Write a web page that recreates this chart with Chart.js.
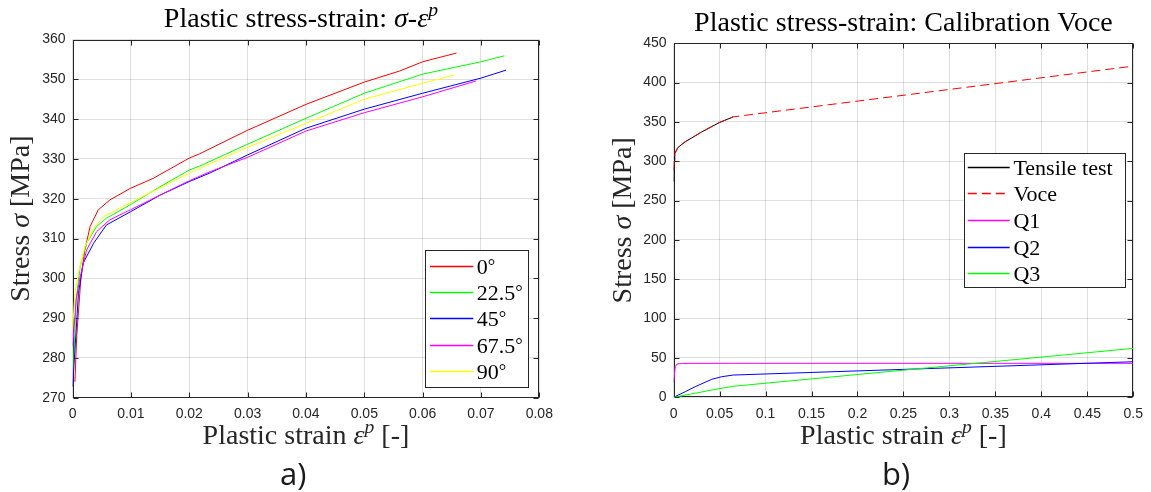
<!DOCTYPE html>
<html>
<head>
<meta charset="utf-8">
<script src="https://cdn.jsdelivr.net/npm/chart.js@4/dist/chart.umd.min.js"></script>
<style>
  html, body { margin: 0; padding: 0; background: #ffffff; }
  #wrap { position: relative; width: 1151px; height: 492px; overflow: hidden; }
  canvas { position: absolute; top: 0; }
</style>
</head>
<body>
<div id="wrap">
  <canvas id="panelA" width="576" height="492" style="left:0;width:576px;height:492px"></canvas>
  <canvas id="panelB" width="575" height="492" style="left:576px;width:575px;height:492px"></canvas>
</div>
<script>
// ---------- Panel a: plastic stress vs plastic strain per orientation ----------
const angleLabels = ['0°', '22.5°', '45°', '67.5°', '90°'];

const strain0  = [0.0004, 0.0007, 0.0014, 0.0021, 0.0030, 0.0044, 0.0064, 0.0099, 0.0138, 0.0200, 0.0218, 0.0300, 0.0400, 0.0500, 0.0561, 0.0600, 0.0658];
const stress0  = [274.0, 285.3, 299.6, 307.1, 313.0, 317.2, 319.7, 322.6, 325.1, 330.2, 331.3, 337.2, 343.7, 349.3, 352.1, 354.4, 356.6];

const strain22 = [0.0001, 0.0006, 0.0013, 0.0024, 0.0041, 0.0058, 0.0099, 0.0150, 0.0200, 0.0218, 0.0300, 0.0400, 0.0500, 0.0600, 0.0700, 0.0740];
const stress22 = [276.0, 294.5, 303.0, 308.8, 313.0, 315.1, 318.5, 323.0, 327.2, 328.2, 333.7, 340.2, 346.5, 351.3, 354.4, 355.9];

const strain45 = [0.0000, 0.0004, 0.0010, 0.0018, 0.0036, 0.0058, 0.0099, 0.0150, 0.0200, 0.0236, 0.0300, 0.0400, 0.0500, 0.0600, 0.0700, 0.0743];
const stress45 = [272.8, 282.0, 296.2, 303.8, 308.8, 313.4, 316.7, 320.9, 324.3, 326.5, 331.0, 337.7, 342.5, 346.5, 350.3, 352.3];

const strain67 = [0.0000, 0.0006, 0.0013, 0.0024, 0.0041, 0.0064, 0.0099, 0.0150, 0.0200, 0.0236, 0.0300, 0.0400, 0.0500, 0.0600, 0.0692];
const stress67 = [282.9, 294.5, 300.4, 307.1, 311.7, 314.7, 317.2, 320.9, 324.5, 326.8, 330.4, 337.0, 341.6, 345.6, 349.6];

const strain90 = [0.0000, 0.0004, 0.0010, 0.0021, 0.0036, 0.0053, 0.0099, 0.0200, 0.0218, 0.0300, 0.0400, 0.0500, 0.0600, 0.0654];
const stress90 = [287.0, 296.2, 301.3, 307.9, 312.6, 315.5, 319.0, 326.4, 327.6, 332.9, 338.9, 345.0, 349.0, 351.1];

const xTicksA      = [0, 0.01, 0.02, 0.03, 0.04, 0.05, 0.06, 0.07, 0.08];
const xTickLabelsA = ['0', '0.01', '0.02', '0.03', '0.04', '0.05', '0.06', '0.07', '0.08'];
const yTicksA      = [270, 280, 290, 300, 310, 320, 330, 340, 350, 360];
const yTickLabelsA = ['270', '280', '290', '300', '310', '320', '330', '340', '350', '360'];

// ---------- Panel b: Voce calibration and its three hardening terms ----------
const curveLabelsB = ['Tensile test', 'Voce', 'Q1', 'Q2', 'Q3'];

const strainTest = [0.0002, 0.0006, 0.0013, 0.0048, 0.0127, 0.0308, 0.0500, 0.0650];
const stressTest = [274.0, 300.0, 310.0, 317.7, 324.8, 337.5, 349.4, 356.5];

const strainVoce = [0, 0.0014, 0.0048, 0.0127, 0.0308, 0.0500, 0.0650, 0.5];
const stressVoce = [288.8, 310.0, 318.0, 325.0, 337.5, 349.4, 356.5, 421.0];

const strainQ1 = [0, 0.0018, 0.0037, 0.0100, 0.0650, 0.5];
const stressQ1 = [19.0, 38.9, 42.3, 43.1, 43.2, 43.2];

const strainQ2 = [0, 0.0127, 0.0235, 0.0416, 0.0524, 0.0650, 0.5];
const stressQ2 = [0, 7.1, 13.5, 22.9, 26.2, 28.3, 45.2];

const strainQ3 = [0, 0.0235, 0.0416, 0.0650, 0.5];
const stressQ3 = [0, 5.1, 9.3, 14.0, 62.2];

const xTicksB      = [0, 0.05, 0.1, 0.15, 0.2, 0.25, 0.3, 0.35, 0.4, 0.45, 0.5];
const xTickLabelsB = ['0', '0.05', '0.1', '0.15', '0.2', '0.25', '0.3', '0.35', '0.4', '0.45', '0.5'];
const yTicksB      = [0, 50, 100, 150, 200, 250, 300, 350, 400, 450];
const yTickLabelsB = ['0', '50', '100', '150', '200', '250', '300', '350', '400', '450'];

// ---------- shared styling ----------
const AXIS_COLOR = '#262626';
const GRID_COLOR = 'rgba(38,38,38,0.15)';
const SERIF = '"Liberation Serif", "Times New Roman", serif';
const SANS = '"Liberation Sans", Arial, sans-serif';
const TICK_LEN = 5;

function points(xs, ys) {
  return xs.map((x, i) => ({ x: x, y: ys[i] }));
}

function series(label, xs, ys, color, dash, i) {
  return {
    label: label,
    data: points(xs, ys),
    borderColor: color,
    backgroundColor: color,
    borderWidth: 1,
    borderDash: dash || [],
    pointRadius: 0,
    tension: 0,
    fill: false,
    order: -i
  };
}

function labelFor(ticks, labels, v) {
  const k = ticks.findIndex(t => Math.abs(t - v) < 1e-9);
  return k >= 0 ? labels[k] : '';
}

// Mixed-style text: runs of {t, it (italic), sup (superscript), deg (small ring)}
function runSize(r, size) {
  if (r.sup) return size * 0.7;
  if (r.deg) return size * 0.85;
  return size;
}
function runFont(size, italic) {
  return (italic ? 'italic ' : '') + size + 'px ' + SERIF;
}
function runsWidth(ctx, runs, size) {
  let w = 0;
  for (const r of runs) {
    ctx.font = runFont(runSize(r, size), r.it);
    w += ctx.measureText(r.t).width;
  }
  return w;
}
function drawRuns(ctx, runs, x, y, size, align) {
  let cx = align === 'left' ? x : x - runsWidth(ctx, runs, size) / 2;
  ctx.textAlign = 'left';
  ctx.textBaseline = 'alphabetic';
  for (const r of runs) {
    ctx.font = runFont(runSize(r, size), r.it);
    ctx.fillText(r.t, cx, r.sup ? y - size * 0.38 : (r.deg ? y - size * 0.08 : y));
    cx += ctx.measureText(r.t).width;
  }
}

// Legend text: a trailing degree sign is set as a small ring
function legendRuns(label) {
  if (label.endsWith('°')) {
    return [{ t: label.slice(0, -1) }, { t: '°', deg: true }];
  }
  return [{ t: label }];
}

// Full box with inward tick marks on all four sides
const framePlugin = {
  id: 'frame',
  beforeDatasetsDraw(chart) {
    const { ctx, chartArea: a, scales } = chart;
    const L = Math.round(a.left) + 0.5, R = Math.round(a.right) - 0.5;
    const T = Math.round(a.top) + 0.5, B = Math.round(a.bottom) - 0.5;
    ctx.save();
    ctx.strokeStyle = AXIS_COLOR;
    ctx.lineWidth = 1;
    ctx.beginPath();
    for (const t of scales.x.ticks) {
      const px = Math.round(scales.x.getPixelForValue(t.value)) + 0.5;
      ctx.moveTo(px, B); ctx.lineTo(px, B - TICK_LEN);
      ctx.moveTo(px, T); ctx.lineTo(px, T + TICK_LEN);
    }
    for (const t of scales.y.ticks) {
      const py = Math.round(scales.y.getPixelForValue(t.value)) + 0.5;
      ctx.moveTo(L, py); ctx.lineTo(L + TICK_LEN, py);
      ctx.moveTo(R, py); ctx.lineTo(R - TICK_LEN, py);
    }
    ctx.stroke();
    ctx.strokeRect(L, T, R - L, B - T);
    ctx.restore();
  }
};

// Legend box, titles, axis labels and panel tag
function makeDecor(spec) {
  return {
    id: 'decor',
    afterDatasetsDraw(chart) {
      const ctx = chart.ctx;
      const g = spec.legend;
      ctx.save();
      ctx.fillStyle = '#ffffff';
      ctx.fillRect(g.x, g.y, g.w, g.h);
      ctx.strokeStyle = AXIS_COLOR;
      ctx.lineWidth = 1;
      ctx.strokeRect(Math.round(g.x) + 0.5, Math.round(g.y) + 0.5, Math.round(g.w), Math.round(g.h));
      chart.data.datasets.forEach((ds, i) => {
        const yy = Math.round(g.y + g.first + i * g.step) + 0.5;
        ctx.strokeStyle = ds.borderColor;
        ctx.lineWidth = 1.5;
        ctx.setLineDash(ds.borderDash || []);
        ctx.beginPath();
        ctx.moveTo(g.x + g.l0, yy);
        ctx.lineTo(g.x + g.l1, yy);
        ctx.stroke();
        ctx.setLineDash([]);
        ctx.fillStyle = '#000000';
        drawRuns(ctx, legendRuns(ds.label), g.x + g.tx, yy + g.size * 0.33, g.size, 'left');
      });
      ctx.restore();
    },
    afterDraw(chart) {
      const ctx = chart.ctx;
      const a = chart.chartArea;
      const cx = (a.left + a.right) / 2;
      ctx.save();
      ctx.fillStyle = '#000000';
      drawRuns(ctx, spec.title, cx + spec.titleShift, spec.titleBase, spec.titleSize);
      ctx.fillStyle = '#262626';
      drawRuns(ctx, spec.xLabel, cx, spec.xLabelBase, spec.labelSize);
      ctx.save();
      ctx.translate(spec.yLabelBase, (a.top + a.bottom) / 2);
      ctx.rotate(-Math.PI / 2);
      drawRuns(ctx, spec.yLabel, 0, 0, spec.labelSize);
      ctx.restore();
      ctx.fillStyle = '#1a1a1a';
      ctx.font = spec.tagSize + 'px "Open Sans", "Noto Sans", sans-serif';
      ctx.textAlign = 'center';
      ctx.textBaseline = 'alphabetic';
      ctx.fillText(spec.tag, spec.tagX, spec.tagBase);
      ctx.restore();
    }
  };
}

function buildChart(canvas, spec) {
  const W = canvas.width, H = canvas.height, a = spec.area;
  const axisTicks = {
    padding: 7,
    color: AXIS_COLOR,
    font: { family: SANS, size: 14 },
    maxRotation: 0,
    autoSkip: false
  };
  return new Chart(canvas, {
    type: 'line',
    data: { datasets: spec.datasets },
    options: {
      responsive: false,
      animation: false,
      devicePixelRatio: 1,
      events: [],
      layout: { padding: { left: 0, top: a.top, right: W - a.right, bottom: 0 } },
      plugins: {
        legend: { display: false },
        tooltip: { enabled: false },
        title: { display: false }
      },
      scales: {
        x: {
          type: 'linear',
          min: spec.xTicks[0],
          max: spec.xTicks[spec.xTicks.length - 1],
          grid: { color: GRID_COLOR, drawTicks: false },
          border: { display: false },
          ticks: Object.assign({}, axisTicks, {
            padding: 8,
            callback: v => labelFor(spec.xTicks, spec.xLabels, v)
          }),
          afterBuildTicks: s => { s.ticks = spec.xTicks.map(v => ({ value: v })); },
          afterFit: s => { s.height = H - a.bottom; }
        },
        y: {
          type: 'linear',
          min: spec.yTicks[0],
          max: spec.yTicks[spec.yTicks.length - 1],
          grid: { color: GRID_COLOR, drawTicks: false },
          border: { display: false },
          ticks: Object.assign({}, axisTicks, {
            callback: v => labelFor(spec.yTicks, spec.yLabels, v)
          }),
          afterBuildTicks: s => { s.ticks = spec.yTicks.map(v => ({ value: v })); },
          afterFit: s => { s.width = a.left; }
        }
      }
    },
    plugins: [framePlugin, makeDecor(spec)]
  });
}

const strainLabel = [{ t: 'Plastic strain ' }, { t: 'ε', it: true }, { t: 'p', it: true, sup: true }, { t: ' [-]' }];
const stressLabel = [{ t: 'Stress ' }, { t: 'σ', it: true }, { t: ' [MPa]' }];

buildChart(document.getElementById('panelA'), {
  area: { left: 72.6, right: 539.3, top: 39.5, bottom: 397.7 },
  xTicks: xTicksA, xLabels: xTickLabelsA,
  yTicks: yTicksA, yLabels: yTickLabelsA,
  datasets: [
    series(angleLabels[0], strain0, stress0, '#ff0000', null, 0),
    series(angleLabels[1], strain22, stress22, '#00ff00', null, 1),
    series(angleLabels[2], strain45, stress45, '#0000ff', null, 2),
    series(angleLabels[3], strain67, stress67, '#ff00ff', null, 3),
    series(angleLabels[4], strain90, stress90, '#ffff00', null, 4)
  ],
  legend: { x: 425.3, y: 250, w: 102.7, h: 136.5, first: 15.7, step: 26.3, l0: 4.7, l1: 48, tx: 51.4, size: 22 },
  title: [{ t: 'Plastic stress-strain: ' }, { t: 'σ', it: true }, { t: '-' }, { t: 'ε', it: true }, { t: 'p', it: true, sup: true }],
  titleShift: -5, titleBase: 27, titleSize: 28,
  xLabel: strainLabel, xLabelBase: 444,
  yLabel: stressLabel, yLabelBase: 28.5,
  labelSize: 28,
  tag: 'a)', tagX: 293.3, tagBase: 485, tagSize: 31
});

buildChart(document.getElementById('panelB'), {
  area: { left: 97.6, right: 559.3, top: 43.3, bottom: 397.3 },
  xTicks: xTicksB, xLabels: xTickLabelsB,
  yTicks: yTicksB, yLabels: yTickLabelsB,
  datasets: [
    series(curveLabelsB[0], strainTest, stressTest, '#000000', null, 0),
    series(curveLabelsB[1], strainVoce, stressVoce, '#ff0000', [9, 5], 1),
    series(curveLabelsB[2], strainQ1, stressQ1, '#ff00ff', null, 2),
    series(curveLabelsB[3], strainQ2, stressQ2, '#0000ff', null, 3),
    series(curveLabelsB[4], strainQ3, stressQ3, '#00ff00', null, 4)
  ],
  legend: { x: 387.5, y: 153.3, w: 160.9, h: 134, first: 13.5, step: 26.6, l0: 4.3, l1: 46.2, tx: 49.9, size: 22 },
  title: [{ t: 'Plastic stress-strain: Calibration Voce' }],
  titleShift: 0, titleBase: 31, titleSize: 28,
  xLabel: strainLabel, xLabelBase: 444,
  yLabel: stressLabel, yLabelBase: 55,
  labelSize: 28,
  tag: 'b)', tagX: 320, tagBase: 485, tagSize: 31
});
</script>
</body>
</html>
